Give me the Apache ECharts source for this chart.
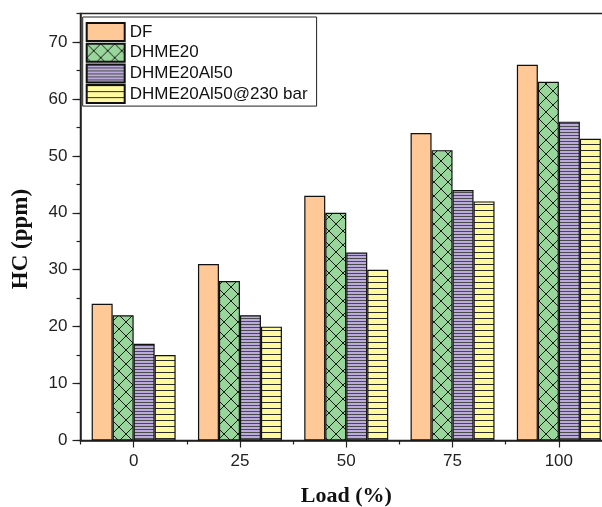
<!DOCTYPE html>
<html>
<head>
<meta charset="utf-8">
<script src="https://cdn.jsdelivr.net/npm/echarts@6/dist/echarts.min.js"></script>
<style>
html,body{margin:0;padding:0;background:#fff;}
#main{width:602px;height:507px;}
</style>
</head>
<body>
<div id="main"></div>
<script>
var categories = ['0', '25', '50', '75', '100'];
var seriesNames = ['DF', 'DHME20', 'DHME20Al50', 'DHME20Al50@230 bar'];
var dfValues = [24, 31, 43, 54, 66];
var dhme20Values = [22, 28, 40, 51, 63];
var dhme20al50Values = [17, 22, 33, 44, 56];
var dhme20al50bar230Values = [15, 20, 30, 42, 53];
var yTickLabels = [0, 10, 20, 30, 40, 50, 60, 70];

function makeCanvas(w, h) {
  var c = document.createElement('canvas');
  c.width = w; c.height = h;
  return c;
}
function crossPattern(bg, line) {
  var c = makeCanvas(14, 14), g = c.getContext('2d');
  g.fillStyle = bg; g.fillRect(0, 0, 14, 14);
  g.strokeStyle = line; g.lineWidth = 1;
  g.beginPath();
  g.moveTo(-1, -1); g.lineTo(15, 15);
  g.moveTo(-1, 15); g.lineTo(15, -1);
  g.stroke();
  return { image: c, repeat: 'repeat' };
}
function hlinePattern(bg, line, period) {
  var c = makeCanvas(8, period), g = c.getContext('2d');
  g.fillStyle = bg; g.fillRect(0, 0, 8, period);
  g.fillStyle = line; g.fillRect(0, 0, 8, 1);
  return { image: c, repeat: 'repeat' };
}

var fills = [
  '#FFC896',
  crossPattern('#99D69B', '#1a1a1a'),
  hlinePattern('#BBABDC', '#4a4a4a', 3),
  hlinePattern('#FFFA9E', '#2a2a2a', 6)
];
var dataSets = [dfValues, dhme20Values, dhme20al50Values, dhme20al50bar230Values];

var chart = echarts.init(document.getElementById('main'), null, { renderer: 'canvas' });
var gridPos = { left: 80.5, top: 13.5, width: 531.5, height: 427, containLabel: false, outerBoundsMode: 'none' };
var option = {
  animation: false,
  backgroundColor: '#fff',
  grid: [
    Object.assign({ show: true, borderColor: '#222', borderWidth: 1.5 }, gridPos),
    Object.assign({ show: false }, gridPos)
  ],
  legend: {
    orient: 'vertical',
    left: 82.7,
    top: 17,
    itemWidth: 38,
    itemHeight: 18,
    itemGap: 0.7,
    padding: [5, 9, 2, 3],
    borderColor: '#222',
    borderWidth: 1,
    icon: 'rect',
    textStyle: { fontFamily: 'Liberation Sans, Arial, sans-serif', fontSize: 17, lineHeight: 18, color: '#111' },
    data: seriesNames
  },
  xAxis: [
    {
      type: 'category', gridIndex: 0, data: categories,
      name: 'Load (%)', nameLocation: 'middle', nameGap: 45,
      nameTextStyle: { fontFamily: 'Liberation Serif, Times New Roman, serif', fontWeight: 'bold', fontSize: 22, color: '#111' },
      axisLine: { show: true, lineStyle: { color: '#222', width: 1.5 } },
      axisTick: { show: true, alignWithLabel: true, length: 7, lineStyle: { color: '#222', width: 1.2 } },
      axisLabel: { margin: 12, fontFamily: 'Liberation Sans, Arial, sans-serif', fontSize: 17, color: '#222' },
      splitLine: { show: false }
    },
    {
      type: 'category', gridIndex: 1, data: categories,
      axisLine: { show: false },
      axisTick: { show: true, alignWithLabel: false, length: 4, lineStyle: { color: '#222', width: 1.2 } },
      axisLabel: { show: false },
      splitLine: { show: false }
    }
  ],
  yAxis: [
    {
      type: 'value', gridIndex: 0, min: 0, max: 75, interval: 10,
      name: 'HC (ppm)', nameLocation: 'middle', nameGap: 48, nameRotate: 90,
      nameTextStyle: { fontFamily: 'Liberation Serif, Times New Roman, serif', fontWeight: 'bold', fontSize: 23, color: '#111', padding: [0, 24, 0, 0] },
      axisLine: { show: true, lineStyle: { color: '#222', width: 1.5 } },
      axisTick: { show: true, length: 8, customValues: yTickLabels, lineStyle: { color: '#222', width: 1.2 } },
      axisLabel: { margin: 13, customValues: yTickLabels, fontFamily: 'Liberation Sans, Arial, sans-serif', fontSize: 17, color: '#222' },
      splitLine: { show: false }
    },
    {
      type: 'value', gridIndex: 1, min: 0, max: 75, interval: 5,
      axisLine: { show: false },
      axisTick: { show: true, length: 4, lineStyle: { color: '#222', width: 1.2 } },
      axisLabel: { show: false },
      splitLine: { show: false }
    }
  ],
  series: seriesNames.map(function (name, i) {
    return {
      name: name,
      type: 'bar',
      xAxisIndex: 0,
      yAxisIndex: 0,
      data: dataSets[i],
      barGap: '0%',
      barCategoryGap: '21%',
      itemStyle: { color: fills[i], borderColor: '#111', borderWidth: 1.2 }
    };
  })
};
chart.setOption(option);
</script>
</body>
</html>
